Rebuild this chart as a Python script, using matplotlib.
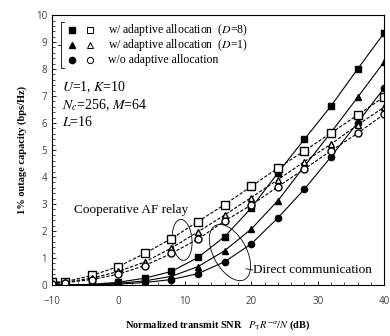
import matplotlib
matplotlib.use("Agg")
import matplotlib.pyplot as plt
from matplotlib.patches import Ellipse
from matplotlib.ticker import MultipleLocator

plt.rcParams['mathtext.fontset'] = 'stix'

snr = [-10, -8, -4, 0, 4, 8, 12, 16, 20, 24, 28, 32, 36, 40]

# direct communication (solid, filled markers)
dir_d8 = [0.0, 0.0, 0.02, 0.1, 0.25, 0.5, 1.02, 1.79, 2.85, 4.15, 5.4, 6.63, 8.0, 9.34]
dir_d1 = [0.0, 0.0, 0.01, 0.06, 0.15, 0.32, 0.68, 1.27, 2.07, 3.12, 4.4, 5.65, 6.95, 8.27]
dir_no = [0.0, 0.0, 0.0, 0.03, 0.09, 0.2, 0.42, 0.86, 1.52, 2.48, 3.55, 4.75, 6.01, 7.3]

# cooperative AF relay (dashed, open markers)
af_d8 = [0.1, 0.12, 0.35, 0.68, 1.17, 1.72, 2.35, 2.98, 3.65, 4.33, 4.97, 5.63, 6.3, 6.97]
af_d1 = [0.08, 0.1, 0.25, 0.5, 0.85, 1.37, 1.97, 2.59, 3.24, 3.9, 4.57, 5.22, 5.93, 6.59]
af_no = [0.05, 0.08, 0.2, 0.4, 0.72, 1.17, 1.7, 2.37, 2.96, 3.64, 4.3, 4.97, 5.62, 6.33]

legend_labels = ['w/ adaptive allocation  ($D$=8)',
                 'w/ adaptive allocation  ($D$=1)',
                 'w/o adaptive allocation']

serif = 'Liberation Serif'

fig = plt.figure(figsize=(3.9, 3.36), dpi=100)
ax = fig.add_axes([0.133, 0.152, 0.852, 0.803])

mk = dict(color='black', lw=0.8)
ax.plot(snr, dir_d8, '-s', ms=5, mfc='black', **mk)
ax.plot(snr, dir_d1, '-^', ms=5, mfc='black', **mk)
ax.plot(snr, dir_no, '-o', ms=4.5, mfc='black', **mk)
ax.plot(snr, af_d8, '--s', ms=5.5, mfc='white', dashes=(3, 1.5), **mk)
ax.plot(snr, af_d1, '--^', ms=5, mfc='white', dashes=(3, 1.5), **mk)
ax.plot(snr, af_no, '--o', ms=5, mfc='white', dashes=(3, 1.5), **mk)

ax.set_xlim(-10, 40)
ax.set_ylim(0, 10)
ax.xaxis.set_major_locator(MultipleLocator(10))
ax.xaxis.set_minor_locator(MultipleLocator(2))
ax.yaxis.set_major_locator(MultipleLocator(1))
ax.yaxis.set_minor_locator(MultipleLocator(0.2))
ax.tick_params(which='both', direction='in', labelsize=7, labelcolor='#404040')
ax.tick_params(which='major', length=3, width=0.6)
ax.tick_params(which='minor', length=2, width=0.5)
for lab in ax.get_xticklabels() + ax.get_yticklabels():
    lab.set_family('Open Sans')
ax.tick_params(axis='x', pad=8)
for s in ax.spines.values():
    s.set_linewidth(0.8)

ax.set_xlabel('Normalized transmit SNR   $P_{\\mathrm{T}}R^{-\\alpha}/N$ (dB)',
              family=serif, fontweight='bold', fontsize=7.5, labelpad=8)
ax.set_ylabel('1% outage capacity (bps/Hz)', family=serif,
              fontweight='bold', fontsize=7.5, labelpad=6)

# custom legend with filled/open marker pairs and a bracket
tr = ax.transAxes
rows = [0.945, 0.89, 0.835]
shapes = ['s', '^', 'o']
for yy, m, lab in zip(rows, shapes, legend_labels):
    ax.plot([0.06], [yy], m, color='black', ms=4.5, transform=tr, clip_on=False)
    ax.plot([0.115], [yy], m, color='black', mfc='white', ms=4.5, mew=0.7,
            transform=tr, clip_on=False)
    ax.text(0.17, yy, lab, transform=tr, family=serif, fontsize=8.5, va='center')
ax.plot([0.036, 0.026, 0.026, 0.036], [0.975, 0.975, 0.805, 0.805], color='black',
        lw=0.6, transform=tr)
ax.plot([0.018, 0.026], [0.89, 0.89], color='black', lw=0.6, transform=tr)

ax.text(-8.5, 7.6, '$U$=1, $K$=10\n$N_c$=256, $M$=64\n$L$=16', family=serif,
        fontsize=10, va='top', linespacing=1.15)

ax.text(10.5, 2.78, 'Cooperative AF relay', family=serif, fontsize=9.5,
        ha='right', va='center')
ax.add_patch(Ellipse((9.6, 1.67), 3.0, 1.5, angle=-5, fill=False, lw=0.6,
                     color='black'))

ax.text(20.2, 0.55, 'Direct communication', family=serif, fontsize=9.5,
        va='center')
ax.add_patch(Ellipse((16.8, 1.2), 6.3, 1.8, angle=-10, fill=False, lw=0.6,
                     color='black'))
ax.plot([19.2, 20.2], [0.6, 0.55], color='black', lw=0.6)

fig.savefig('out.png', dpi=100)
